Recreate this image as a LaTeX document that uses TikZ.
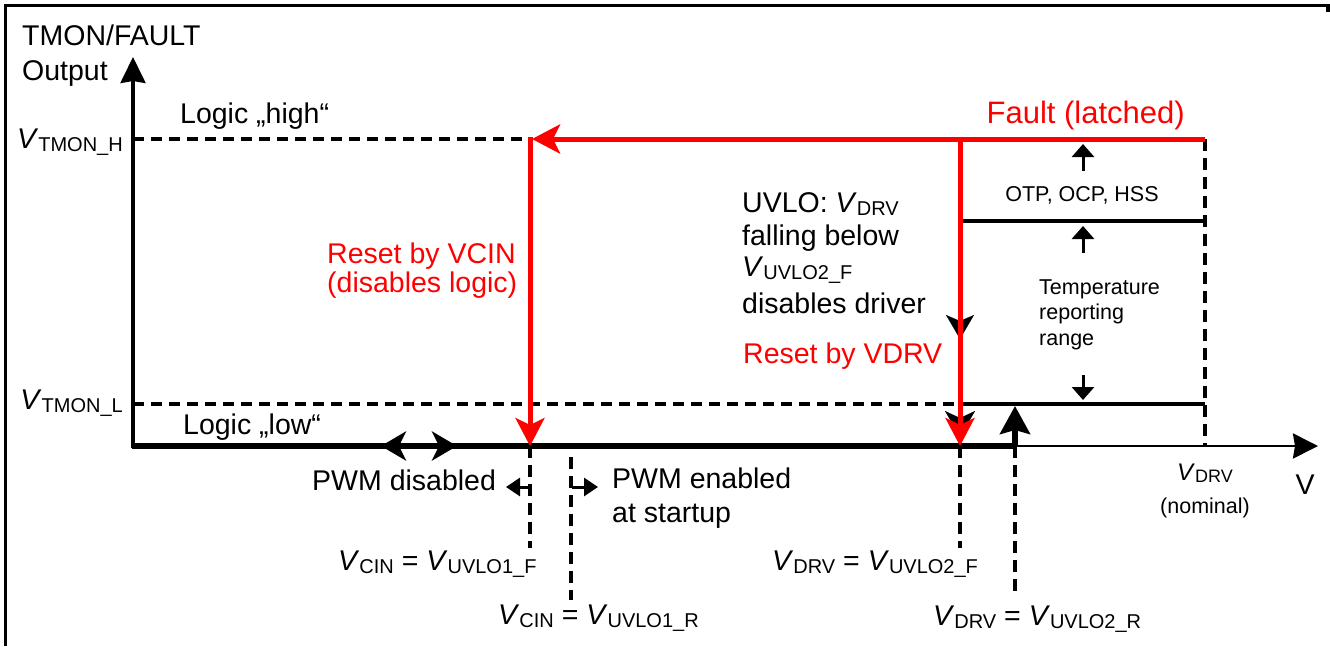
\documentclass[tikz,border=0pt]{standalone}
\usepackage{fontspec}
\setmainfont{Liberation Sans}
\usetikzlibrary{arrows.meta}
\definecolor{fred}{RGB}{255,0,0}
\newcommand{\mainsize}{\fontsize{28.5}{34}\selectfont}
\newcommand{\smallsize}{\fontsize{21.5}{25}\selectfont}
\newcommand{\Vsub}[1]{\textit{V}\raisebox{-3pt}{\fontsize{20}{20}\selectfont #1}}
\newcommand{\Vsubsm}[1]{{\fontsize{24}{24}\selectfont\textit{V}}\raisebox{-2.5pt}{\fontsize{18}{18}\selectfont #1}}
\begin{document}
\begin{tikzpicture}[x=1pt,y=-1pt,
  lbl/.style={inner sep=0pt, font=\mainsize},
  slbl/.style={inner sep=0pt, font=\smallsize},
  redtxt/.style={text=fred},
  dashln/.style={line width=3.2pt, dash pattern=on 11pt off 7pt},
  vdashln/.style={line width=3.2pt, dash pattern=on 12pt off 7pt},
  levelln/.style={line width=4.8pt},
  redln/.style={draw=fred, line width=5pt},
  bighead/.style={-{Stealth[length=28pt,width=29pt,inset=7pt]}},
  smallup/.style={line width=3pt,-{Triangle[length=13pt,width=22pt]}},
  pwmhead/.style={line width=3pt,-{Triangle[length=14pt,width=18pt]}},
]
\useasboundingbox (0,0) rectangle (1330,646);
% frame
\draw[line width=3.5pt] (1328,12) -- (1328,5.5) -- (5.5,5.5) -- (5.5,646);

% coordinates
\coordinate (Yb) at (133,448);
\coordinate (Yt) at (133,57);
\coordinate (O) at (131.5,446);
\coordinate (Xm) at (1015,446);
\coordinate (Xt) at (1318,446);
\coordinate (H0) at (133,139);
\coordinate (Hc) at (530,139);
\coordinate (Hcu) at (530,136.5);
\coordinate (Hcl) at (532,139);
\coordinate (Hd) at (960,139);
\coordinate (Hr) at (1205,139);
\coordinate (L0) at (133,404);
\coordinate (Ld) at (960,404);
\coordinate (Lr) at (1205,404);
\coordinate (Md) at (960,221);
\coordinate (Mr) at (1205,221);
\coordinate (Xc) at (530,446);
\coordinate (Xd) at (960,446);
\coordinate (Xn) at (1205,446);
\coordinate (Cf) at (530,548);
\coordinate (Cr1) at (571,457);
\coordinate (Cr2) at (571,600);
\coordinate (Df) at (960,548);
\coordinate (Dr) at (1015,598);
\coordinate (Lup) at (1015,406);
\coordinate (DA1) at (381,446);
\coordinate (DA2) at (457,446);
\coordinate (Pl0) at (530,487);
\coordinate (Pl1) at (506,487);
\coordinate (Pr0) at (572,487);
\coordinate (Pr1) at (598,487);
\coordinate (U1a) at (1083,171);
\coordinate (U1b) at (1083,144);
\coordinate (U2a) at (1083,253);
\coordinate (U2b) at (1083,226);
\coordinate (D1a) at (1083,375);
\coordinate (D1b) at (1083,400);
\coordinate (Bm0) at (960,300);
\coordinate (Bm1) at (960,339);
\coordinate (Bb0) at (960,400);
\coordinate (Bb1) at (960,437);

% dashed lines
\draw[dashln] (H0) -- (Hc);
\draw[dashln] (L0) -- (Ld);
\draw[vdashln] (Hr) -- (Xn);
\draw[vdashln] (Xc) -- (Cf);
\draw[vdashln] (Cr1) -- (Cr2);
\draw[vdashln] (Xd) -- (Df);
\draw[vdashln] (Xm) -- (Dr);

% axes
\draw[line width=3.2pt, -{Stealth[length=26pt,width=25pt,inset=2pt]}] (Yb) -- (Yt);
\draw[line width=5.5pt] (O) -- (Xm);
\draw[line width=2.8pt, -{Stealth[length=25pt,width=25pt,inset=2pt]}] (Xm) -- (Xt);

% level lines
\draw[levelln] (Md) -- (Mr);
\draw[levelln] (Ld) -- (Lr);

% small arrows
\draw[smallup] (U1a) -- (U1b);
\draw[smallup] (U2a) -- (U2b);
\draw[smallup] (D1a) -- (D1b);
\draw[pwmhead] (Pl0) -- (Pl1);
\draw[pwmhead] (Pr0) -- (Pr1);

% big black arrows
\draw[line width=5.5pt, -{Stealth[length=28pt,width=30pt,inset=4pt]}] (Xm) -- (Lup);
\draw[line width=5.5pt, {Stealth[length=25pt,width=29pt,inset=7pt]}-{Stealth[length=25pt,width=29pt,inset=7pt]}] (DA1) -- (DA2);
\draw[line width=0.1pt, -{Stealth[length=26pt,width=30pt,inset=7pt]}] (Bb0) -- (Bb1);
\draw[line width=0.1pt, -{Stealth[length=24pt,width=28pt,inset=6pt]}] (Bm0) -- (Bm1);

% red paths
\draw[redln, bighead] (Hr) -- (Hcl);
\draw[redln, bighead] (Hcu) -- (Xc);
\draw[redln, bighead] (Hd) -- (Xd);

% texts
\node[lbl, anchor=base west] (tmon) at (22,45) {TMON/FAULT};
\node[lbl, anchor=base west] (outp) at (22,80) {Output};
\node[lbl, anchor=base west] (lhigh) at (180,123) {Logic „high“};
\node[lbl, anchor=base east] (vh) at (123,148) {\Vsub{TMON\_H}};
\node[lbl, anchor=base east] (vl) at (123,409) {\Vsub{TMON\_L}};
\node[lbl, anchor=base west] (llow) at (183,434) {Logic „low“};
\node[lbl, anchor=base west] (pwmd) at (312,490) {PWM disabled};
\node[lbl, anchor=base west] (pwme1) at (612,488) {PWM enabled};
\node[lbl, anchor=base west] (pwme2) at (612,522) {at startup};
\node[lbl, anchor=base] (vdrvn) at (1205,480) {\Vsubsm{DRV}};
\node[slbl, anchor=base] (nom) at (1205,513) {(nominal)};
\node[lbl] (vax) at (1305,485) {V};
\node[lbl, anchor=base west] (eq1) at (338,570) {\Vsub{CIN} = \Vsub{UVLO1\_F}};
\node[lbl, anchor=base west] (eq2) at (498,624) {\Vsub{CIN} = \Vsub{UVLO1\_R}};
\node[lbl, anchor=base west] (eq3) at (772,570) {\Vsub{DRV} = \Vsub{UVLO2\_F}};
\node[lbl, anchor=base west] (eq4) at (933,625) {\Vsub{DRV} = \Vsub{UVLO2\_R}};
\node[lbl, redtxt, anchor=base east, font=\fontsize{31}{36}\selectfont] (fault) at (1185,123) {Fault (latched)};
\node[slbl, anchor=base] (otp) at (1082,201) {OTP, OCP, HSS};
\node[slbl, anchor=base west] (temp1) at (1039,294) {Temperature};
\node[slbl, anchor=base west] (temp2) at (1039,319.5) {reporting};
\node[slbl, anchor=base west] (temp3) at (1039,345) {range};
\node[lbl, anchor=base west] (uv1) at (742,212) {UVLO: \Vsub{DRV}};
\node[lbl, anchor=base west] (uv2) at (742,245) {falling below};
\node[lbl, anchor=base west] (uv3) at (742,276) {\Vsub{UVLO2\_F}};
\node[lbl, anchor=base west] (uv4) at (742,313) {disables driver};
\node[lbl, redtxt, anchor=base west] (rvdrv) at (743,363) {Reset by VDRV};
\node[lbl, redtxt, anchor=base west] (rvc1) at (327,263) {Reset by VCIN};
\node[lbl, redtxt, anchor=base west] (rvc2) at (327,292) {(disables logic)};
\end{tikzpicture}
\end{document}
